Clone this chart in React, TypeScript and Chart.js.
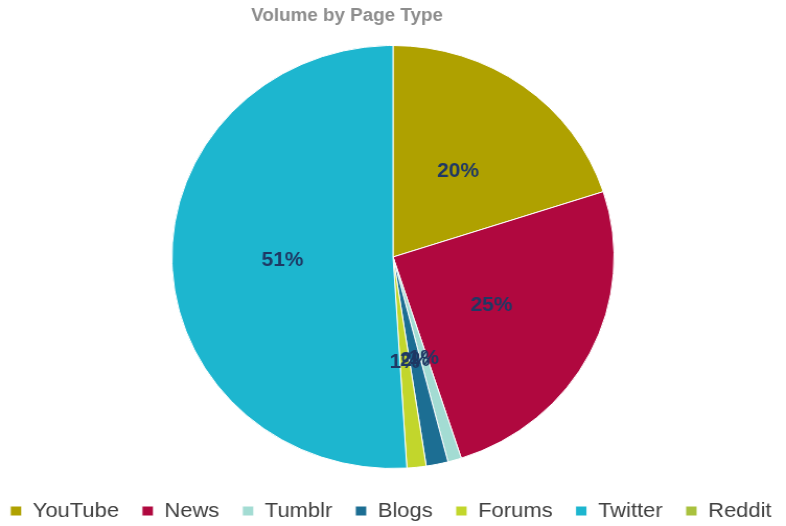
import React, { useEffect, useRef } from 'react';
import { Chart, registerables } from 'chart.js';

Chart.register(...registerables);

const chartTitle = 'Volume by Page Type';
const categories = ['YouTube', 'News', 'Tumblr', 'Blogs', 'Forums', 'Twitter', 'Reddit'];
const volumeShare = [20, 25, 1, 1.6, 1.4, 51, 0];
const sliceColors = ['#AFA100', '#B0083F', '#A3DCD3', '#1C6E93', '#C2D62C', '#1DB6CF', '#A9C13E'];

const INTERNAL_W = 752;
const DISPLAY_W = 786;
const H = 526;

export default function App() {
  const ref = useRef<HTMLCanvasElement>(null);

  useEffect(() => {
    const canvas = ref.current;
    if (!canvas) return;
    const total = volumeShare.reduce((a, b) => a + b, 0);

    const sliceLabels = {
      id: 'sliceLabels',
      afterDatasetsDraw(chart: any) {
        const ctx = chart.ctx;
        const meta = chart.getDatasetMeta(0);
        ctx.save();
        ctx.font = 'bold 20px "Liberation Sans", Arial, sans-serif';
        ctx.fillStyle = '#1F3864';
        ctx.textAlign = 'center';
        ctx.textBaseline = 'middle';
        meta.data.forEach((arc: any, i: number) => {
          const v = volumeShare[i];
          if (!v) return;
          const p = arc.getProps(['x', 'y', 'startAngle', 'endAngle', 'outerRadius'], true);
          const mid = (p.startAngle + p.endAngle) / 2;
          const r = p.outerRadius * 0.5;
          ctx.fillText(Math.round((v / total) * 100) + '%', p.x + Math.cos(mid) * r, p.y + Math.sin(mid) * r);
        });
        ctx.restore();
      },
    };

    const pageTitle = {
      id: 'pageTitle',
      afterDraw(chart: any) {
        const ctx = chart.ctx;
        ctx.save();
        ctx.font = 'bold 18px "Liberation Sans", Arial, sans-serif';
        ctx.fillStyle = '#8C8C8C';
        ctx.textAlign = 'center';
        ctx.textBaseline = 'middle';
        ctx.fillText(chartTitle, 332, 16);
        ctx.restore();
      },
    };

    const chart = new Chart(canvas, {
      type: 'pie',
      data: {
        labels: categories,
        datasets: [
          {
            data: volumeShare,
            backgroundColor: sliceColors,
            borderColor: '#FFFFFF',
            borderWidth: 1,
            hoverOffset: 0,
          },
        ],
      },
      options: {
        responsive: false,
        maintainAspectRatio: false,
        animation: false,
        radius: 211.5,
        layout: { padding: { left: -19, right: -15, top: 35.5, bottom: -5.5 } },
        plugins: {
          title: { display: false },
          tooltip: { enabled: false },
          legend: {
            display: true,
            position: 'bottom',
            labels: {
              boxWidth: 11,
              boxHeight: 10,
              padding: 22,
              color: '#404040',
              font: { family: '"Liberation Sans", Arial, sans-serif', size: 21 },
            },
          },
        },
      } as any,
      plugins: [sliceLabels, pageTitle],
    });

    return () => chart.destroy();
  }, []);

  return (
    <div style={{ position: 'fixed', left: 0, top: 0, width: DISPLAY_W, height: H, background: '#FFFFFF' }}>
      <canvas
        ref={ref}
        width={INTERNAL_W}
        height={H}
        style={{ width: DISPLAY_W + 'px', height: H + 'px', display: 'block' }}
      />
    </div>
  );
}
